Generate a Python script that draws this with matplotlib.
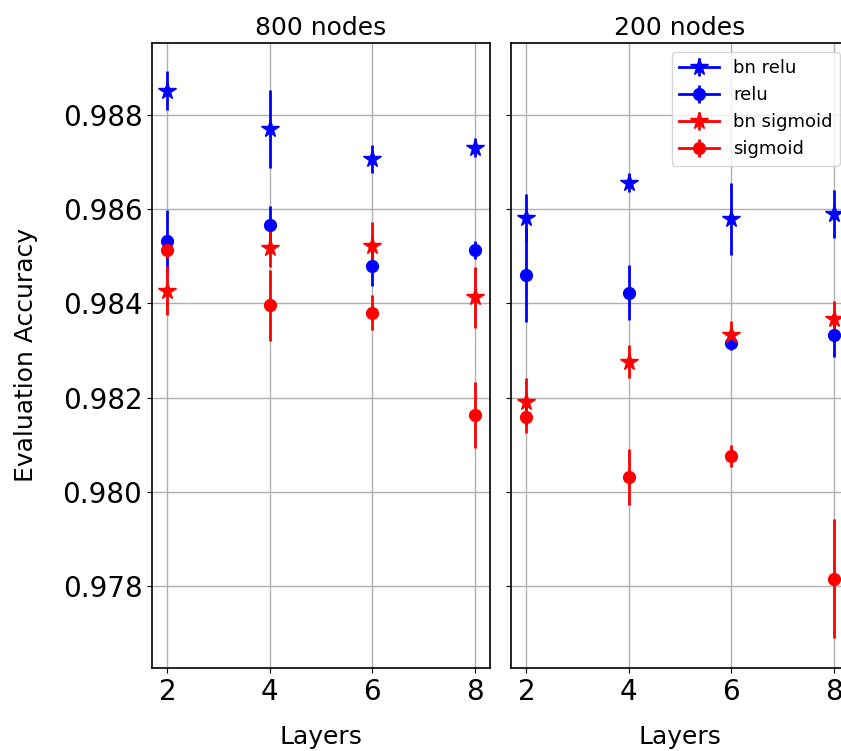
import matplotlib
matplotlib.use("Agg")
import matplotlib.pyplot as plt

layers = [2, 4, 6, 8]
panels = ["800 nodes", "200 nodes"]
series = ["bn relu", "relu", "bn sigmoid", "sigmoid"]
colors = ["blue", "blue", "red", "red"]
markers = ["*", "o", "*", "o"]

# 800 nodes
bn_relu_800 = [0.98852, 0.98770, 0.98707, 0.98731]
bn_relu_800_err = [0.00042, 0.00083, 0.00029, 0.00021]
relu_800 = [0.98532, 0.98566, 0.98480, 0.98513]
relu_800_err = [0.00067, 0.00041, 0.00043, 0.00019]
bn_sigmoid_800 = [0.98427, 0.98517, 0.98522, 0.98413]
bn_sigmoid_800_err = [0.00052, 0.00040, 0.00050, 0.00065]
sigmoid_800 = [0.98513, 0.98396, 0.98380, 0.98163]
sigmoid_800_err = [0.00016, 0.00075, 0.00037, 0.00070]

# 200 nodes
bn_relu_200 = [0.98582, 0.98656, 0.98579, 0.98590]
bn_relu_200_err = [0.00050, 0.00020, 0.00077, 0.00050]
relu_200 = [0.98460, 0.98423, 0.98317, 0.98333]
relu_200_err = [0.00100, 0.00058, 0.00015, 0.00046]
bn_sigmoid_200 = [0.98191, 0.98276, 0.98333, 0.98366]
bn_sigmoid_200_err = [0.00050, 0.00035, 0.00030, 0.00040]
sigmoid_200 = [0.98159, 0.98032, 0.98076, 0.97816]
sigmoid_200_err = [0.00033, 0.00060, 0.00023, 0.00127]

data = [
    [(bn_relu_800, bn_relu_800_err), (relu_800, relu_800_err),
     (bn_sigmoid_800, bn_sigmoid_800_err), (sigmoid_800, sigmoid_800_err)],
    [(bn_relu_200, bn_relu_200_err), (relu_200, relu_200_err),
     (bn_sigmoid_200, bn_sigmoid_200_err), (sigmoid_200, sigmoid_200_err)],
]

W, H = 841, 751
fig = plt.figure(figsize=(W / 100, H / 100), dpi=100)
ax1 = fig.add_axes([152 / W, (H - 668) / H, 338 / W, 625 / H])
ax2 = fig.add_axes([511 / W, (H - 668) / H, 338 / W, 625 / H], sharey=ax1)

for ax, title, pdata in zip([ax1, ax2], panels, data):
    for name, col, mk, (vals, errs) in zip(series, colors, markers, pdata):
        ms = 13 if mk == "*" else 8.5
        for i, (x, v, e) in enumerate(zip(layers, vals, errs)):
            ax.errorbar([x], [v], yerr=[e], color=col, marker=mk,
                        markersize=ms, linewidth=2, elinewidth=2,
                        label=name if i == 0 else None)
    ax.set_title(title, fontsize=18)
    ax.set_xlabel("Layers", fontsize=18, labelpad=14)
    ax.set_xticks(layers)
    ax.grid(True, color="#b0b0b0", linewidth=1)
    ax.tick_params(labelsize=20)
    for s in ax.spines.values():
        s.set_linewidth(1.2)

ax1.set_xlim(1.7, 8.3)
ax2.set_xlim(1.7, 8.3)
ax1.set_ylim(0.97626, 0.98953)
ax1.set_yticks([0.978, 0.980, 0.982, 0.984, 0.986, 0.988])
ax1.set_yticklabels(["0.978", "0.980", "0.982", "0.984", "0.986", "0.988"])
ax1.set_ylabel("Evaluation Accuracy", fontsize=18, labelpad=18)
plt.setp(ax2.get_yticklabels(), visible=False)

ax2.legend(loc="upper right", fontsize=13, numpoints=1, handlelength=2.2)

fig.savefig("out.png", dpi=100)
